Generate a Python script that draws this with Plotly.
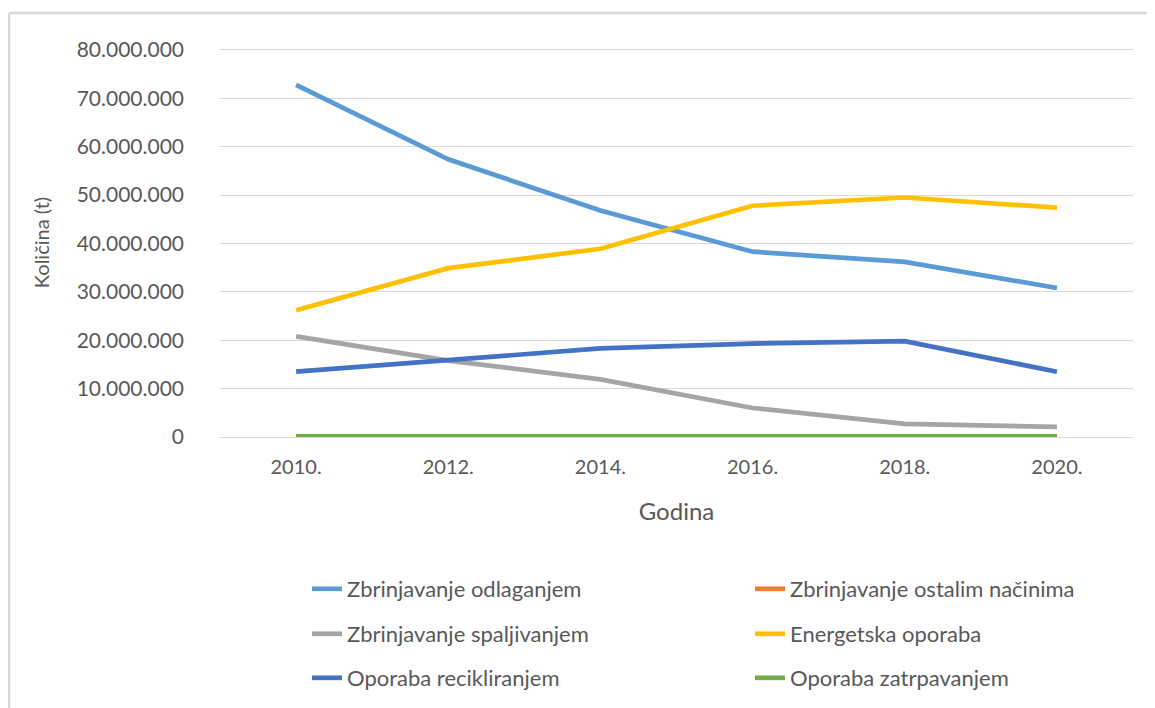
import plotly.graph_objects as go

years = ["2010.", "2012.", "2014.", "2016.", "2018.", "2020."]
odlaganjem = [72800000, 57400000, 46800000, 38300000, 36200000, 30800000]
ostalim = [60000, 60000, 60000, 60000, 60000, 60000]
spaljivanjem = [20800000, 15800000, 11900000, 6000000, 2700000, 2100000]
energetska = [26200000, 34900000, 38900000, 47800000, 49500000, 47400000]
recikliranjem = [13500000, 16000000, 18300000, 19300000, 19800000, 13500000]
zatrpavanjem = [150000, 150000, 150000, 150000, 150000, 150000]

names = ["Zbrinjavanje odlaganjem", "Zbrinjavanje ostalim načinima",
         "Zbrinjavanje spaljivanjem", "Energetska oporaba",
         "Oporaba recikliranjem", "Oporaba zatrpavanjem"]
series = [odlaganjem, ostalim, spaljivanjem, energetska, recikliranjem, zatrpavanjem]
colors = ["#5B9BD5", "#ED7D31", "#A5A5A5", "#FFC000", "#4472C4", "#70AD47"]

W, H = 1155, 708
L, R, T, B = 212, 30, 40, 279
pw, ph = W - L - R, H - T - B

# legend slot positions (figure pixels): legend left x, row centre y
leg_x = [299, 742, 299, 742, 299, 742]
leg_y = [581, 581, 626, 626, 670, 670]

fig = go.Figure()
legend_ids = ["legend"] + [f"legend{i}" for i in range(2, 7)]
for name, vals, col, lg in zip(names, series, colors, legend_ids):
    fig.add_trace(go.Scatter(x=years, y=vals, name=name, mode="lines",
                             line=dict(color=col, width=4.7), legend=lg))

font = "Lato, 'Open Sans', sans-serif"
legend_layout = {}
for lg, lx, ly in zip(legend_ids, leg_x, leg_y):
    legend_layout[lg] = dict(
        orientation="h", xref="container", yref="container",
        x=lx / W, y=1 - ly / H, xanchor="left", yanchor="middle",
        font=dict(size=22, color="#595959", family=font),
        bgcolor="rgba(0,0,0,0)", itemwidth=30)

fig.update_layout(
    width=W, height=H,
    margin=dict(l=L, r=R, t=T, b=B),
    paper_bgcolor="white", plot_bgcolor="white",
    separators=",.",
    font=dict(family=font, color="#595959"),
    showlegend=True,
    **legend_layout,
    xaxis=dict(type="category", range=[-0.5, 5.5], showgrid=False, showline=False, zeroline=False,
               ticks="", tickfont=dict(size=20, color="#595959", family=font),
               ticklabelstandoff=16,
               title=dict(text="Godina", font=dict(size=24, color="#595959", family=font), standoff=26)),
    yaxis=dict(range=[0, 80400000], dtick=10000000, tickformat=",d",
               showgrid=True, gridcolor="#D9D9D9", gridwidth=1.3,
               zeroline=True, zerolinecolor="#D9D9D9", zerolinewidth=1.3,
               showline=False, ticks="",
               tickfont=dict(size=21, color="#595959", family=font),
               ticklabelstandoff=35,
               title=dict(text="Količina (t)", font=dict(size=20, color="#595959", family=font), standoff=21)),
    shapes=[
        dict(type="line", xref="paper", yref="paper", x0=(1 - L) / pw, x1=(1160 - L) / pw,
             y0=(H - B - 5) / ph, y1=(H - B - 5) / ph, line=dict(color="#D9D9D9", width=2.5)),
        dict(type="line", xref="paper", yref="paper", x0=(1 - L) / pw, x1=(1 - L) / pw,
             y0=(H - B - 5) / ph, y1=(H - B - 712) / ph, line=dict(color="#D9D9D9", width=2.5)),
    ],
)

fig.write_html("out.html")
